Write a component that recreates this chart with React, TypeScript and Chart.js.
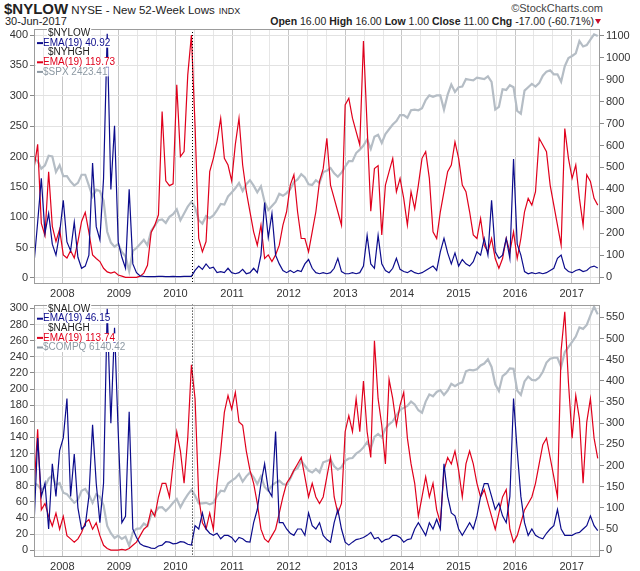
import React, { useEffect, useRef } from "react";
import { Chart, registerables } from "chart.js";
Chart.register(...registerables);

// ---------- data ----------
const START = 2007.5; // first sample (decimal year)
const STEP = 9.96 / 154; // sampling interval (years)
const X_MIN = 2007.5;
const X_MAX = 2017.5;
const MARKER_DATE = 2010.3;

const yearLabels = [2008, 2009, 2010, 2011, 2012, 2013, 2014, 2015, 2016, 2017];

// Top panel
const nyLowEma = [62,250,450,200,290,150,100,200,350,160, 120,250,90,40,50,100,520,230,170,450, 1110,400,690,160,90,40,400,60,20,5, 3,2,2,2,3,3,2,2,3,2, 2,3,3,3,30,50,35,60,40,45, 20,25,20,40,20,15,20,35,15,20, 40,20,100,340,180,290,100,60,30,20, 30,20,30,25,60,80,40,20,15,20, 15,20,40,85,25,15,15,20,15,20, 50,190,60,40,190,60,30,20,40,85, 35,25,20,30,20,15,20,30,40,50, 30,115,176,110,60,110,50,80,60,50, 70,115,100,176,100,350,115,85,100,176, 85,539,150,100,25,15,20,15,20,15, 20,30,40,85,100,40,25,20,30,35, 25,30,45,50,41];
const nyHighEma = [180,220,90,70,175,85,60,80,38,33, 45,33,60,93,108,75,38,32,27,16, 10,8,10,5,3,1,1,1,1,3, 8,21,75,87,104,274,160,152,155,318, 200,208,334,400,250,65,43,60,175,197, 225,263,197,186,160,220,263,186,142,109, 76,54,87,32,38,27,38,54,87,109, 153,170,109,65,65,43,76,109,159,180, 230,153,131,109,87,285,296,263,241,219, 390,250,110,180,185,71,153,175,197,142, 164,131,87,142,114,153,197,208,164,76, 65,109,142,175,186,224,197,153,142,109, 71,65,98,54,43,65,32,16,32,65, 43,76,32,65,109,131,120,142,230,219, 208,153,120,87,54,246,197,164,186,131, 87,170,159,131,120];
const spx = [1520,1500,1445,1470,1540,1535,1420,1470,1390,1390, 1350,1320,1340,1400,1400,1320,1240,1290,1280,1210, 980,900,870,890,830,800,690,840,860,890, 920,880,985,1025,1065,1070,1045,1090,1110,1145, 1065,1115,1165,1200,1160,1065,1040,1095,1080,1100, 1140,1185,1180,1240,1270,1300,1340,1280,1330,1360, 1320,1270,1315,1200,1140,1170,1200,1260,1245,1265, 1295,1345,1365,1405,1380,1330,1325,1360,1340,1420, 1430,1450,1410,1385,1415,1460,1500,1500,1560,1585, 1615,1660,1590,1680,1695,1635,1700,1735,1770,1795, 1840,1840,1820,1875,1880,1875,1890,1950,1985,1975, 1985,1985,1880,1990,2065,2010,2045,2050,2105,2100, 2095,2115,2110,2105,2125,2085,1880,1900,2030,2025, 2060,2045,1870,1850,2020,2045,2070,2050,2075,2130, 2160,2170,2140,2140,2085,2200,2260,2275,2295,2385, 2345,2355,2395,2435,2423];

// Bottom panel
const naLowEma = [58,265,127,158,50,204,127,235,265,358, 127,227,100,50,58,127,296,158,65,158, 570,300,525,280,65,80,327,50,30,15, 10,8,5,4,10,12,20,19,15,16, 20,19,14,12,58,50,88,50,40,35, 40,27,35,35,30,19,30,27,20,19, 65,96,157,204,142,127,280,65,65,50, 40,35,50,50,35,88,58,50,65,35, 25,19,65,96,50,19,12,19,25,27, 30,35,42,27,30,19,25,27,35,35, 30,19,25,27,50,65,50,35,65,50, 73,50,204,127,88,81,50,35,50,65, 50,81,127,157,157,127,96,111,81,65, 127,358,235,127,65,35,50,35,30,27, 40,50,58,96,50,35,35,35,40,42, 50,58,81,58,46];
const naHighEma = [75,150,50,58,42,30,46,26,42,18, 14,10,14,22,34,38,26,34,18,6, 2,0,0,0,1,0,2,6,10,18, 26,30,50,42,66,83,83,66,107,147, 123,83,139,230,188,66,34,26,46,26, 83,123,171,192,175,196,159,155,123,99, 83,58,26,14,10,18,26,46,66,83, 90,99,107,115,91,66,83,66,58,66, 91,115,66,46,58,147,167,147,188,147, 210,147,115,260,188,155,107,212,188,155, 180,196,139,107,83,42,66,91,66,83, 50,34,99,115,107,123,99,66,107,123, 107,83,66,75,58,42,26,46,66,75, 26,10,18,34,50,58,66,83,107,131, 139,115,91,66,248,296,208,139,192,163, 83,159,188,139,114];
const compq = [2640,2600,2500,2560,2730,2800,2600,2640,2440,2410, 2320,2230,2290,2480,2520,2400,2230,2410,2350,2180, 1750,1600,1500,1550,1480,1530,1340,1620,1690,1700, 1800,1750,1980,2020,2130,2140,2060,2140,2230,2310, 2140,2280,2400,2500,2380,2220,2220,2230,2200,2230, 2370,2480,2470,2630,2690,2740,2830,2670,2780,2860, 2760,2620,2780,2560,2480,2590,2650,2690,2620,2600, 2730,2900,2950,3100,3000,2900,2860,2930,2860,3070, 3100,3130,2990,2920,2970,3100,3150,3160,3250,3300, 3380,3490,3360,3600,3660,3590,3770,3860,3920,4040, 4160,4200,4240,4330,4270,4150,4100,4330,4480,4440, 4530,4570,4470,4560,4700,4650,4700,4730,4960,4990, 4980,5000,5080,5120,5210,5050,4690,4550,4860,4920, 5020,5010,4560,4470,4750,4850,4780,4770,4830,4950, 5140,5220,5240,5240,5050,5360,5460,5570,5680,5870, 5840,5920,6120,6300,6140];

// Axis tick labels
const topLeftTicks = [0,25,50,75,100,125,150,175,200,225,250,275,300,325,350,375,400];
const topRightTicks = [0,100,200,300,400,500,600,700,800,900,1000,1100];
const botLeftTicks = [0,20,40,60,80,100,120,140,160,180,200,220,240,260,280,300];
const botRightTicks = [0,50,100,150,200,250,300,350,400,450,500,550];

// ---------- styling ----------
const FONT = "'Liberation Sans', Arial, Helvetica, sans-serif";
const NAVY = "#0c0c8c";
const RED = "#e0001c";
const GRAY = "#b5bdc5";
const GRAY_TXT = "#8d99a3";
const TXT = "#333";

const times = nyLowEma.map((_, i) => START + i * STEP);
const pts = (arr: number[]) => arr.map((v, i) => ({ x: times[i], y: v }));

const xGrid: number[] = [];
for (let y = 2007; y <= 2017; y++) {
  for (let k = 0; k < 3; k++) {
    const t = y + k / 3;
    if (t > X_MIN + 0.01 && t < X_MAX - 0.01) xGrid.push(t);
  }
}
const isYear = (v: number) => Math.abs(v - Math.round(v)) < 1e-6 && yearLabels.includes(Math.round(v));

type Row = { text: string; color: string; marker?: boolean };

function overlay(rows: Row[]) {
  return {
    id: "overlay",
    afterDatasetsDraw(chart: any) {
      const { ctx, chartArea: a, scales } = chart;
      ctx.save();
      // dotted marker line
      const mx = Math.round(scales.x.getPixelForValue(MARKER_DATE)) + 0.5;
      ctx.strokeStyle = "#000";
      ctx.lineWidth = 1;
      ctx.setLineDash([1, 2]);
      ctx.beginPath();
      ctx.moveTo(mx, a.top);
      ctx.lineTo(mx, a.bottom);
      ctx.stroke();
      ctx.setLineDash([]);
      // frame
      ctx.strokeStyle = "#9c9c9c";
      ctx.strokeRect(Math.round(a.left) + 0.5, Math.round(a.top) + 0.5, Math.round(a.right - a.left) - 1, Math.round(a.bottom - a.top) - 1);
      // legend
      ctx.font = `10px ${FONT}`;
      ctx.textBaseline = "middle";
      rows.forEach((r, k) => {
        const y = a.top + 4.5 + k * 9.6;
        const tx = a.left + (r.marker ? 9 : 14);
        const w = ctx.measureText(r.text).width;
        ctx.fillStyle = "#fff";
        const bx = r.marker ? a.left + 2 : tx - 1;
        ctx.fillRect(bx, y - 4.5, tx + w + 1 - bx, 9);
        ctx.fillStyle = r.color;
        if (r.marker) ctx.fillRect(a.left + 3, y - 1, 6, 2);
        ctx.fillText(r.text, tx, y);
      });
      ctx.restore();
    },
  };
}

function makeConfig(opts: {
  low: number[]; high: number[]; price: number[];
  leftTicks: number[]; rightTicks: number[];
  leftMin: number; leftMax: number; rightMin: number; rightMax: number;
  priceMin: number; priceMax: number; padTop: number; rows: Row[];
}): any {
  const tickFont = { family: FONT, size: 11 };
  const plain = (v: number) => String(v);
  return {
    type: "line",
    data: {
      datasets: [
        { data: pts(opts.low), yAxisID: "yR", borderColor: NAVY, borderWidth: 1.2, pointRadius: 0, order: 0 },
        { data: pts(opts.high), yAxisID: "yL", borderColor: RED, borderWidth: 1.2, pointRadius: 0, order: 1 },
        { data: pts(opts.price), yAxisID: "yP", borderColor: GRAY, borderWidth: 2.2, pointRadius: 0, order: 2 },
      ],
    },
    options: {
      responsive: false,
      animation: false,
      events: [],
      layout: { padding: { top: opts.padTop, left: 0, right: 0, bottom: 0 } },
      plugins: { legend: { display: false }, tooltip: { enabled: false } },
      elements: { line: { tension: 0 } },
      scales: {
        x: {
          type: "linear",
          min: X_MIN,
          max: X_MAX,
          afterBuildTicks: (s: any) => { s.ticks = xGrid.map((v) => ({ value: v })); },
          afterFit: (s: any) => { s.height = 14; },
          ticks: {
            autoSkip: false,
            maxRotation: 0,
            padding: 3,
            font: tickFont,
            color: TXT,
            callback: (v: number) => (isYear(v) ? String(Math.round(v)) : ""),
          },
          grid: {
            drawTicks: false,
            color: (c: any) => (c.tick && isYear(c.tick.value) ? "#c6c6c6" : "#e6e6e6"),
          },
          border: { display: false },
        },
        yL: {
          position: "left",
          min: opts.leftMin,
          max: opts.leftMax,
          afterBuildTicks: (s: any) => { s.ticks = opts.leftTicks.map((v) => ({ value: v })); },
          afterFit: (s: any) => { s.width = 34; },
          ticks: { padding: 2, font: tickFont, color: TXT, callback: plain },
          grid: { color: "#e2e2e2", tickColor: "#8a8a8a", tickLength: 4 },
          border: { display: false },
        },
        yR: {
          position: "right",
          min: opts.rightMin,
          max: opts.rightMax,
          afterBuildTicks: (s: any) => { s.ticks = opts.rightTicks.map((v) => ({ value: v })); },
          afterFit: (s: any) => { s.width = 40; },
          ticks: { padding: 2, font: tickFont, color: TXT, callback: plain },
          grid: { drawOnChartArea: false, tickColor: "#8a8a8a", tickLength: 4 },
          border: { display: false },
        },
        yP: { display: false, min: opts.priceMin, max: opts.priceMax },
      },
    },
    plugins: [overlay(opts.rows)],
  };
}

export default function App() {
  const topRef = useRef<HTMLCanvasElement>(null);
  const botRef = useRef<HTMLCanvasElement>(null);

  useEffect(() => {
    const c1 = new Chart(topRef.current as HTMLCanvasElement, makeConfig({
      low: nyLowEma, high: nyHighEma, price: spx,
      leftTicks: topLeftTicks, rightTicks: topRightTicks,
      leftMin: -9.9, leftMax: 409.9, rightMin: -31.8, rightMax: 1131.8,
      priceMin: 595, priceMax: 2474, padTop: 29,
      rows: [
        { text: "$NYLOW", color: "#222" },
        { text: "EMA(19) 40.92", color: NAVY, marker: true },
        { text: "$NYHGH", color: "#222" },
        { text: "EMA(19) 119.73", color: RED, marker: true },
        { text: "$SPX 2423.41", color: GRAY_TXT, marker: true },
      ],
    }));
    const c2 = new Chart(botRef.current as HTMLCanvasElement, makeConfig({
      low: naLowEma, high: naHighEma, price: compq,
      leftTicks: botLeftTicks, rightTicks: botRightTicks,
      leftMin: -8.5, leftMax: 304.8, rightMin: -16.1, rightMax: 580,
      priceMin: 1106, priceMax: 6343, padTop: 2,
      rows: [
        { text: "$NALOW", color: "#222" },
        { text: "EMA(19) 46.15", color: NAVY, marker: true },
        { text: "$NAHGH", color: "#222" },
        { text: "EMA(19) 113.74", color: RED, marker: true },
        { text: "$COMPQ 6140.42", color: GRAY_TXT, marker: true },
      ],
    }));
    return () => { c1.destroy(); c2.destroy(); };
  }, []);

  const abs = (s: any): any => ({ position: "absolute", whiteSpace: "nowrap", ...s });
  return (
    <div style={{ position: "fixed", left: 0, top: 0, width: 640, height: 571, background: "#fff", fontFamily: FONT, color: "#222" }}>
      <div style={abs({ left: 4, top: 0, lineHeight: "17px" })}>
        <span style={{ fontWeight: "bold", fontSize: 15 }}>$NYLOW</span>
        <span style={{ fontSize: 11.5, marginLeft: 3 }}>NYSE - New 52-Week Lows</span>
        <span style={{ fontSize: 9, marginLeft: 4 }}>INDX</span>
      </div>
      <div style={abs({ right: 37, top: 2, fontSize: 11, color: "#444", lineHeight: "12px" })}>©StockCharts.com</div>
      <div style={abs({ left: 5, top: 15, fontSize: 11, lineHeight: "12px" })}>30-Jun-2017</div>
      <div style={abs({ right: 46, top: 15, fontSize: 10.5, lineHeight: "12px" })}>
        <b>Open</b> 16.00 <b>High</b> 16.00 <b>Low</b> 1.00 <b>Close</b> 11.00 <b>Chg</b> -17.00 (-60.71%)
      </div>
      <div style={abs({ left: 595, top: 19, width: 0, height: 0, borderLeft: "3.5px solid transparent", borderRight: "3.5px solid transparent", borderTop: "5px solid #c8102e" })} />
      <canvas ref={topRef} width={640} height={298} style={{ position: "absolute", left: 0, top: 0, width: 640, height: 298 }} />
      <canvas ref={botRef} width={640} height={275} style={{ position: "absolute", left: 0, top: 296, width: 640, height: 275 }} />
    </div>
  );
}
